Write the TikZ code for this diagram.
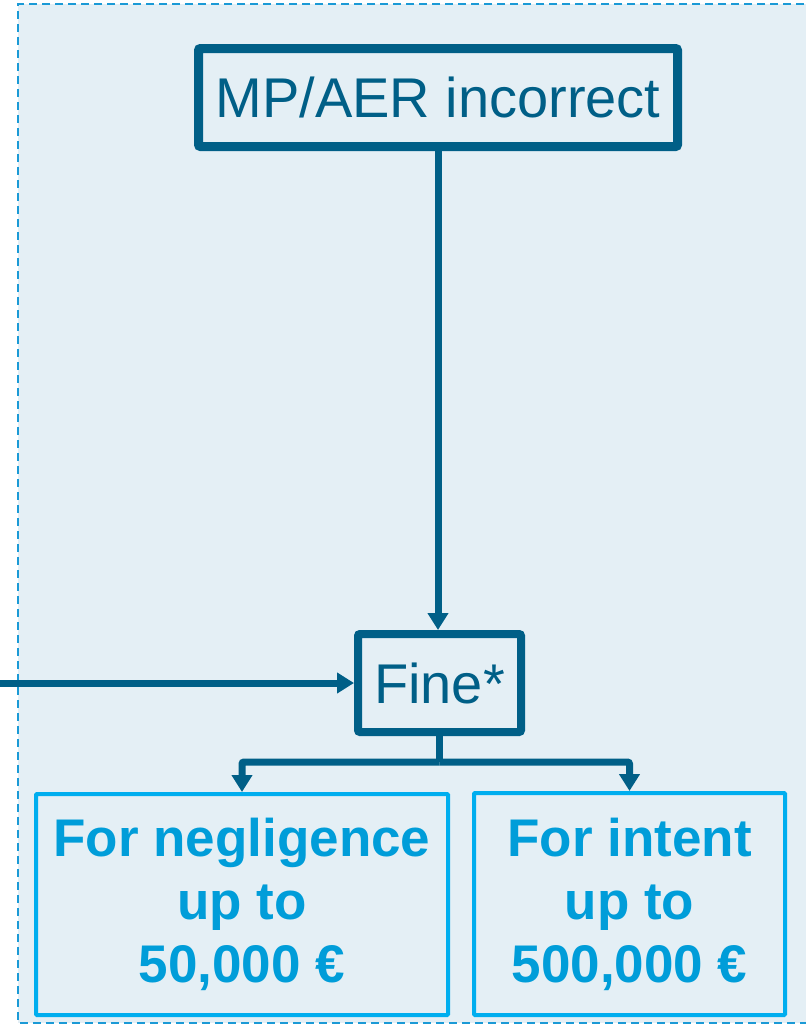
\documentclass[tikz,border=0pt]{standalone}
\usepackage{fontspec}
\setmainfont{Liberation Sans}
\usetikzlibrary{arrows.meta}
\definecolor{darkblue}{HTML}{005F87}
\definecolor{cyanline}{HTML}{00AEEF}
\definecolor{cyantext}{HTML}{009DD9}
\definecolor{panelfill}{HTML}{E4EFF5}
\definecolor{paneldash}{HTML}{1B9AD6}
\tikzset{
  darkbox/.style={draw=darkblue, text=darkblue, rounded corners=2pt, fill=panelfill,
    font=\fontsize{56}{60}\selectfont, inner sep=0pt},
  cyanbox/.style={draw=cyanline, line width=4pt, text=cyantext, fill=panelfill,
    rounded corners=1pt, align=center, inner sep=0pt,
    font=\bfseries\fontsize{53}{63}\selectfont},
  conn/.style={darkblue, line width=7pt},
  arr/.style={conn, -{Triangle[length=17pt,width=20pt]}},
}
\begin{document}
\begin{tikzpicture}[x=1pt,y=-1pt]
\useasboundingbox (0,0) rectangle (806,1026);
\clip (0,0) rectangle (806,1026);
% panel
\fill[panelfill] (18,4) rectangle (830,1023);
\draw[paneldash, line width=2pt, dash pattern=on 8pt off 5pt] (830,4) -- (18,4) -- (18,1023) -- (830,1023);
% nodes
\node[darkbox, line width=9pt, minimum width=479pt, minimum height=98pt] (mp) at (438,97.5) {MP/AER incorrect};
\node[darkbox, line width=8pt, minimum width=163pt, minimum height=98pt] (fine) at (439.5,683) {Fine*};
\node[cyanbox, minimum width=412pt, minimum height=221pt] (neg) at (242,904.5) {\raisebox{-3pt}{\parbox{400pt}{\centering For negligence\\up to\\50,000 €}}};
\node[cyanbox, minimum width=311pt, minimum height=222pt] (intent) at (629.5,904) {\raisebox{-3pt}{\parbox{300pt}{\centering For intent\\up to\\500,000 €}}};
% connectors
\coordinate (left) at (0,683);
\coordinate (split) at (439.5,762);
\draw[arr] (mp.south) -- (mp.south |- fine.north);
\draw[arr] (left) -- (fine.west);
\draw[conn] (fine.south) -- (split);
\draw[arr, rounded corners=2pt] (split) -| (neg.north);
\draw[arr, rounded corners=2pt] (split) -| (intent.north);
\end{tikzpicture}
\end{document}
